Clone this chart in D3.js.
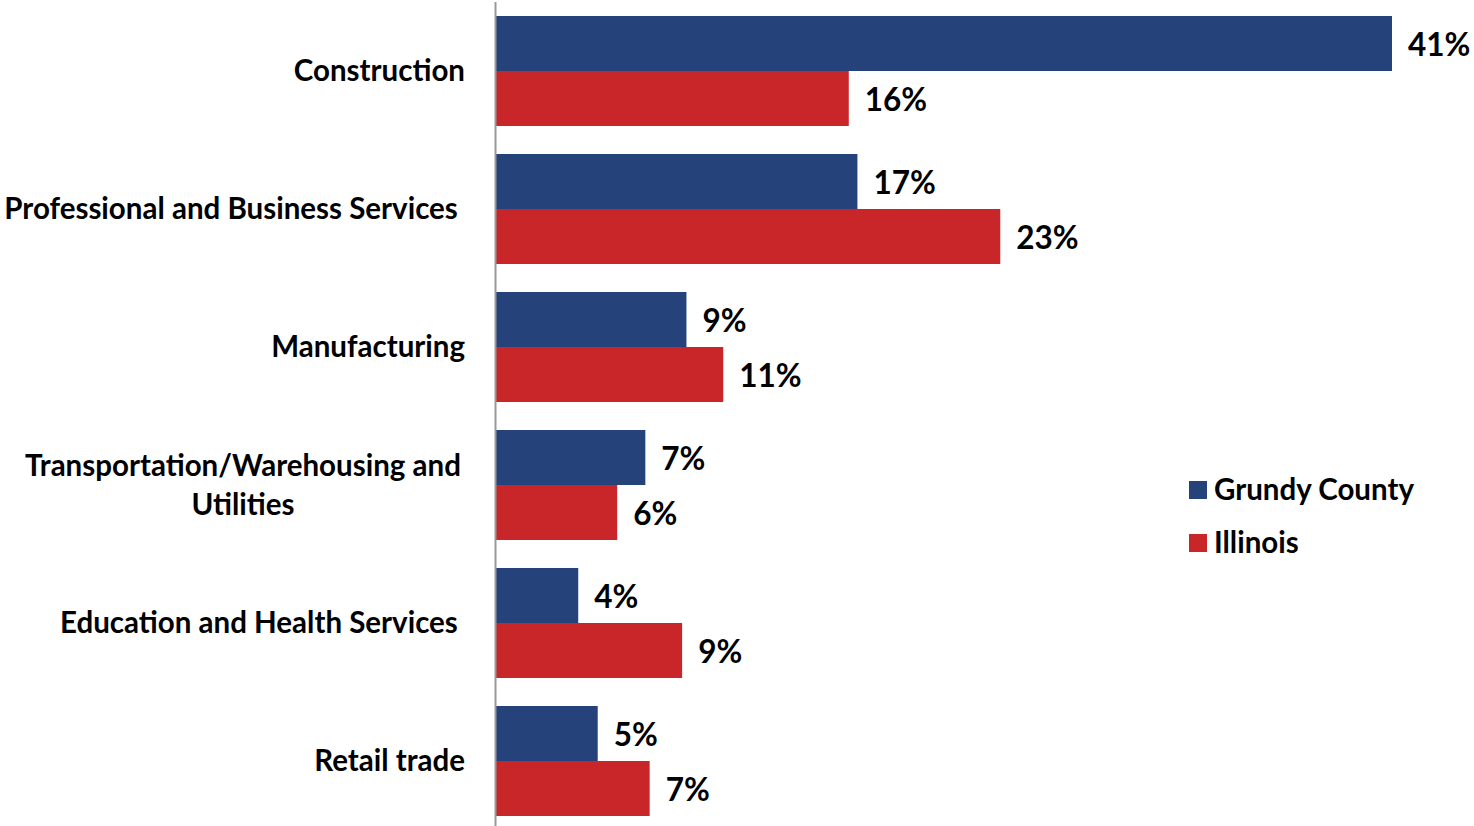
<!DOCTYPE html>
<html>
<head>
<meta charset="utf-8">
<script src="https://cdn.jsdelivr.net/npm/d3@7"></script>
<style>
  body { margin: 0; background: #fff; }
  text { font-family: Lato, "Open Sans", sans-serif; font-weight: bold; fill: #000; }
</style>
</head>
<body>
<div id="chart"></div>
<script>
// data
const categories = [
  ["Construction"],
  ["Professional and Business Services "],
  ["Manufacturing"],
  ["Transportation/Warehousing and", "Utilities"],
  ["Education and Health Services "],
  ["Retail trade"]
];
const seriesNames = ["Grundy County", "Illinois"];
const grundy = [41.4, 16.7, 8.8, 6.9, 3.8, 4.7];
const illinois = [16.3, 23.3, 10.5, 5.6, 8.6, 7.1];
const colors = ["#26427a", "#c9262a"];

const width = 1474, height = 826;
const x0 = 496;
const labelSize = 29.5;

const svg = d3.select("#chart").append("svg")
  .attr("width", width).attr("height", height);

const y = d3.scaleBand()
  .domain(d3.range(categories.length))
  .range([2, 830])
  .paddingInner(0.2029)
  .paddingOuter(0.1015);

const ySub = d3.scaleBand()
  .domain([0, 1])
  .range([0, y.bandwidth()]);

const x = d3.scaleLinear()
  .domain([0, 41.4])
  .range([x0, 1392]);

const series = [grundy, illinois];

series.forEach(function(vals, s) {
  const g = svg.append("g");
  g.selectAll("rect").data(vals).enter().append("rect")
    .attr("x", x0)
    .attr("y", (d, i) => y(i) + ySub(s))
    .attr("width", d => x(d) - x0)
    .attr("height", ySub.bandwidth())
    .attr("fill", colors[s]);
  g.selectAll("text").data(vals).enter().append("text")
    .attr("x", d => x(d) + 16)
    .attr("y", (d, i) => y(i) + ySub(s) + ySub.bandwidth() / 2 + 1)
    .attr("dy", "0.35em")
    .attr("font-size", 31.5)
    .text(d => Math.round(d) + "%");
});

// category labels
categories.forEach(function(lines, i) {
  const cy = y(i) + y.bandwidth() / 2;
  if (lines.length == 1) {
    svg.append("text")
      .attr("x", 465)
      .attr("y", cy)
      .attr("dy", "0.35em")
      .attr("text-anchor", "end")
      .attr("font-size", labelSize)
      .style("white-space", "pre")
      .text(lines[0]);
  } else {
    lines.forEach(function(line, j) {
      svg.append("text")
        .attr("x", 243)
        .attr("y", cy + (j - (lines.length - 1) / 2) * 39)
        .attr("dy", "0.35em")
        .attr("text-anchor", "middle")
        .attr("font-size", labelSize)
        .text(line);
    });
  }
});

// axis line
svg.append("line")
  .attr("x1", x0 - 0.5).attr("x2", x0 - 0.5)
  .attr("y1", 2).attr("y2", height)
  .attr("stroke", "#999").attr("stroke-width", 2);

// legend
const legend = svg.append("g").attr("transform", "translate(1189,481)");
seriesNames.forEach(function(name, i) {
  legend.append("rect")
    .attr("x", 0).attr("y", i * 53)
    .attr("width", 18).attr("height", 18)
    .attr("fill", colors[i]);
  legend.append("text")
    .attr("x", 25).attr("y", i * 53 + 9)
    .attr("dy", "0.35em")
    .attr("font-size", labelSize)
    .text(name);
});
</script>
</body>
</html>
